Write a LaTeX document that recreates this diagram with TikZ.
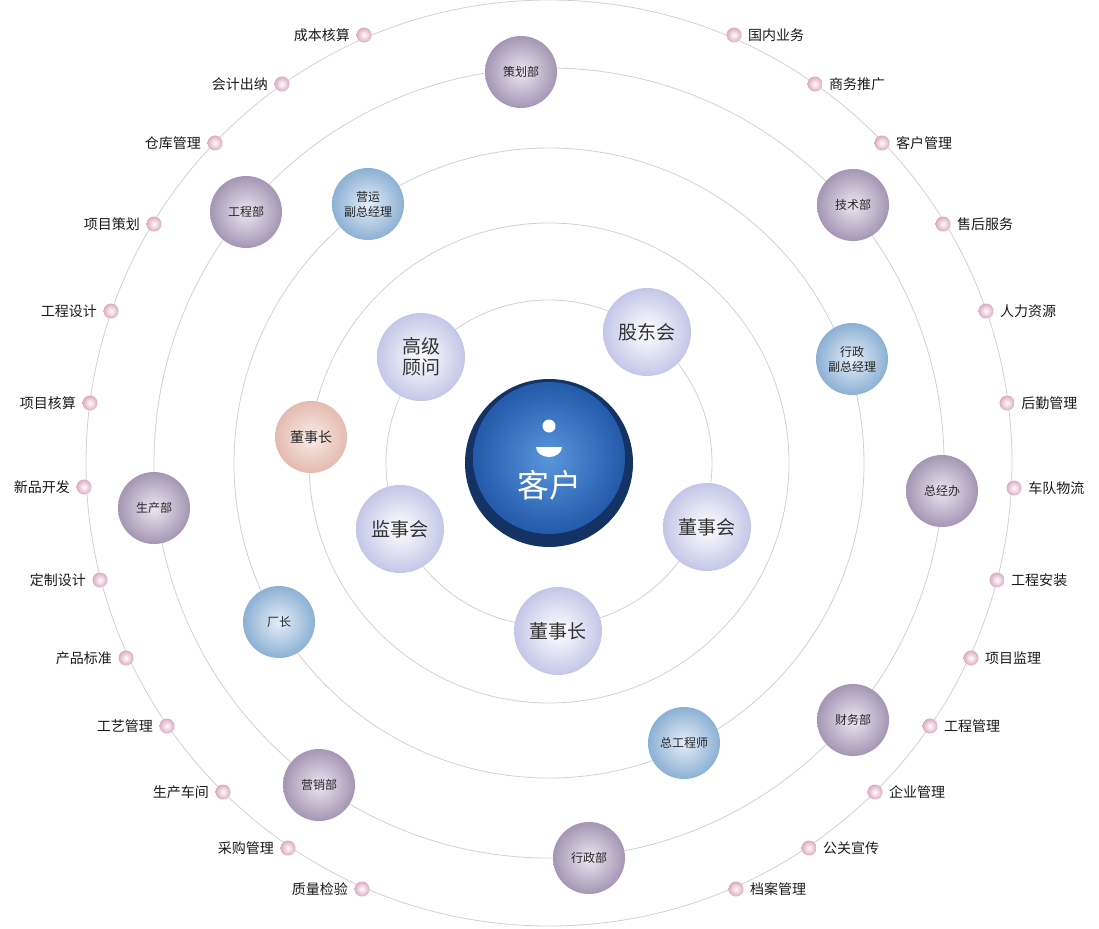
\documentclass[tikz,border=0pt]{standalone}
\usepackage{fontspec}
\setmainfont{Noto Sans CJK SC}
\definecolor{cdark}{RGB}{20,50,100}
\definecolor{cin}{RGB}{90,150,220}
\definecolor{cout}{RGB}{35,90,170}
\definecolor{lav}{RGB}{196,198,232}
\definecolor{pin}{RGB}{236,230,240}
\definecolor{pout}{RGB}{164,150,180}
\definecolor{bin}{RGB}{228,238,248}
\definecolor{bout}{RGB}{140,176,212}
\definecolor{kin}{RGB}{250,236,230}
\definecolor{kout}{RGB}{228,186,176}
\definecolor{dout}{RGB}{222,170,192}
\begin{document}
\begin{tikzpicture}[x=1pt,y=-1pt,
 ring/.style={draw=black!18,line width=0.8pt},
 big/.style={circle,minimum size=88pt,inner sep=0pt,font=\fontsize{19}{21}\selectfont,text=black!80,inner color=white,outer color=lav,align=center},
 purp/.style={circle,minimum size=72pt,inner sep=0pt,font=\fontsize{12}{14}\selectfont,text=black!85,inner color=pin,outer color=pout,align=center},
 blu/.style={circle,minimum size=72pt,inner sep=0pt,font=\fontsize{12}{15}\selectfont,text=black!85,inner color=bin,outer color=bout,align=center},
 pch/.style={circle,minimum size=72pt,inner sep=0pt,font=\fontsize{14}{16}\selectfont,text=black!85,inner color=kin,outer color=kout},
 dot/.style={circle,minimum size=15pt,inner sep=0pt,inner color=white,outer color=dout},
 lab/.style={font=\fontsize{14}{16}\selectfont,text=black!90}]
\useasboundingbox (0,0) rectangle (1099,928);
\coordinate (c) at (549,463);
\foreach \r in {163,240,315,395,463} \draw[ring] (c) circle (\r);
% center
\fill[cdark] (c) circle (84);
\shade[inner color=cin,outer color=cout] (549,458) circle (76);
\node[text=white,font=\fontsize{32}{34}\selectfont] (kh) at (549,485) {客户};
\fill[white] (549,426) circle (6.5);
\fill[white] (536,447) arc (180:0:13 and 10) -- cycle;
% inner ring
\node[big] (gd) at (647,332) {股东会};
\node[big] (dsh) at (707,527) {董事会};
\node[big] (dsz) at (558,631) {董事长};
\node[big] (jsh) at (400,529) {监事会};
\node[big] (gj) at (421,357) {高级\\顾问};
\node[pch] (dsz2) at (311,437) {董事长};
\node[blu] (cz) at (279,622) {厂长};
\node[blu] (yy) at (368,204) {营运\\副总经理};
\node[blu] (xz) at (852,359) {行政\\副总经理};
\node[blu] (zgc) at (684,743) {总工程师};
\node[purp] (ch) at (521,72) {策划部};
\node[purp] (js) at (853,205) {技术部};
\node[purp] (zj) at (942,491) {总经办};
\node[purp] (cw) at (853,720) {财务部};
\node[purp] (xzb) at (589,858) {行政部};
\node[purp] (yx) at (319,785) {营销部};
\node[purp] (sc) at (154,508) {生产部};
\node[purp] (gc) at (246,212) {工程部};
% outer dots
\foreach \x/\y/\t [count=\i] in {364/35/成本核算,282/84/会计出纳,215/143/仓库管理,154/224/项目策划,111/311/工程设计,90/403/项目核算,84/487/新品开发,100/580/定制设计,126/658/产品标准,167/726/工艺管理,223/792/生产车间,288/848/采购管理,362/889/质量检验}{
 \node[dot] (l\i) at (\x,\y) {};
 \node[lab,anchor=east] (ll\i) at ([xshift=-3pt]l\i.west) {\t};}
\foreach \x/\y/\t [count=\i] in {734/35/国内业务,815/84/商务推广,882/143/客户管理,943/224/售后服务,986/311/人力资源,1007/403/后勤管理,1014/488/车队物流,997/580/工程安装,971/658/项目监理,930/726/工程管理,875/792/企业管理,809/848/公关宣传,736/889/档案管理}{
 \node[dot] (r\i) at (\x,\y) {};
 \node[lab,anchor=west] (rl\i) at ([xshift=3pt]r\i.east) {\t};}
\end{tikzpicture}
\end{document}
